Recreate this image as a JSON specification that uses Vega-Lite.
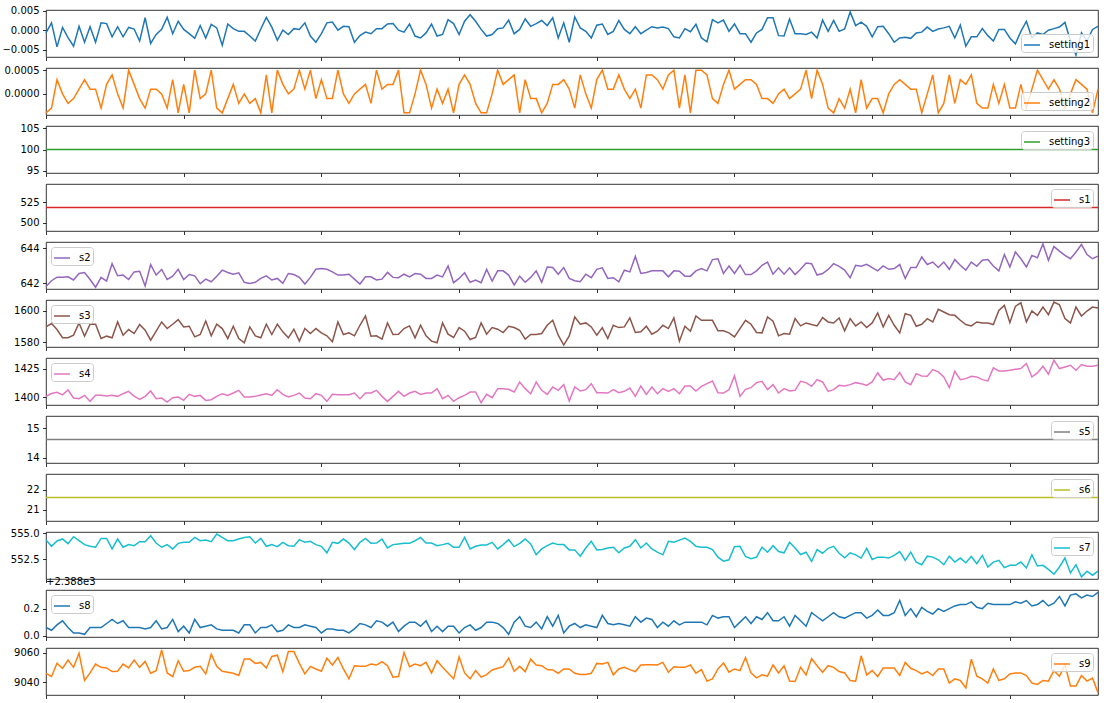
{
"$schema":"https://vega.github.io/schema/vega-lite/v6.json",
"background":"white",
"padding":{"left":1,"top":5,"right":5,"bottom":5},
"bounds":"flush",
"spacing":11,
"config":{
 "font":"DejaVu Sans",
 "view":{"stroke":"#000","strokeWidth":0.8},
 "axis":{"labelFont":"DejaVu Sans","labelFontSize":10,"labelColor":"#000","tickColor":"#000","tickWidth":0.8,"tickSize":3.5,"labelPadding":3.5,"domain":false,"grid":false},
 "legend":{"offset":5,"padding":2,"fillColor":"rgba(255,255,255,0.8)","strokeColor":"#cccccc","cornerRadius":3,"symbolType":"stroke","symbolSize":256,"symbolStrokeWidth":1.5,"labelFontSize":10,"labelFont":"DejaVu Sans","labelColor":"#000","labelOffset":8}
},
"resolve":{"scale":{"y":"independent","color":"independent"},"legend":{"color":"independent"}},
"data":{"values":[
{"t":0,"setting1":-0.0007,"setting2":-0.0004,"setting3":100,"s1":518.67,"s2":641.82,"s3":1589.70,"s4":1400.60,"s5":14.62,"s6":21.61,"s7":554.36,"s8":2388.06,"s9":9046.19},
{"t":1,"setting1":0.0019,"setting2":-0.0003,"setting3":100,"s1":518.67,"s2":642.15,"s3":1591.82,"s4":1403.14,"s5":14.62,"s6":21.61,"s7":553.75,"s8":2388.04,"s9":9044.07},
{"t":2,"setting1":-0.0043,"setting2":0.0003,"setting3":100,"s1":518.67,"s2":642.35,"s3":1587.99,"s4":1404.20,"s5":14.62,"s6":21.61,"s7":554.26,"s8":2388.08,"s9":9052.94},
{"t":3,"setting1":0.0007,"setting2":0,"setting3":100,"s1":518.67,"s2":642.35,"s3":1582.79,"s4":1401.87,"s5":14.62,"s6":21.61,"s7":554.45,"s8":2388.11,"s9":9049.48},
{"t":4,"setting1":-0.0019,"setting2":-0.0002,"setting3":100,"s1":518.67,"s2":642.37,"s3":1582.85,"s4":1406.22,"s5":14.62,"s6":21.61,"s7":554.00,"s8":2388.06,"s9":9055.15},
{"t":5,"setting1":-0.0041,"setting2":-0.0001,"setting3":100,"s1":518.67,"s2":642.19,"s3":1584.42,"s4":1399.12,"s5":14.62,"s6":21.61,"s7":554.66,"s8":2388.02,"s9":9050.22},
{"t":6,"setting1":0.0010,"setting2":0.0001,"setting3":100,"s1":518.67,"s2":642.56,"s3":1592.21,"s4":1398.53,"s5":14.62,"s6":21.61,"s7":554.28,"s8":2388.02,"s9":9059.78},
{"t":7,"setting1":-0.0031,"setting2":0.0003,"setting3":100,"s1":518.67,"s2":642.62,"s3":1583.79,"s4":1401.47,"s5":14.62,"s6":21.61,"s7":553.91,"s8":2388.01,"s9":9041.33},
{"t":8,"setting1":0.0009,"setting2":0.0001,"setting3":100,"s1":518.67,"s2":642.22,"s3":1591.37,"s4":1396.18,"s5":14.62,"s6":21.61,"s7":553.75,"s8":2388.06,"s9":9046.44},
{"t":9,"setting1":-0.0031,"setting2":0.0001,"setting3":100,"s1":518.67,"s2":641.78,"s3":1591.37,"s4":1401.47,"s5":14.62,"s6":21.61,"s7":553.66,"s8":2388.06,"s9":9052.44},
{"t":10,"setting1":0.0019,"setting2":-0.0003,"setting3":100,"s1":518.67,"s2":642.34,"s3":1582.32,"s4":1401.47,"s5":14.62,"s6":21.61,"s7":554.50,"s8":2388.06,"s9":9050.22},
{"t":11,"setting1":0.0017,"setting2":0.0002,"setting3":100,"s1":518.67,"s2":642.13,"s3":1583.79,"s4":1400.88,"s5":14.62,"s6":21.61,"s7":554.50,"s8":2388.09,"s9":9049.78},
{"t":12,"setting1":-0.0017,"setting2":0.0004,"setting3":100,"s1":518.67,"s2":643.12,"s3":1582.74,"s4":1401.47,"s5":14.62,"s6":21.61,"s7":553.50,"s8":2388.12,"s9":9047.33},
{"t":13,"setting1":0.0009,"setting2":0,"setting3":100,"s1":518.67,"s2":642.43,"s3":1592.84,"s4":1400.59,"s5":14.62,"s6":21.61,"s7":554.44,"s8":2388.09,"s9":9047.56},
{"t":14,"setting1":-0.0017,"setting2":-0.0003,"setting3":100,"s1":518.67,"s2":642.47,"s3":1584.42,"s4":1402.94,"s5":14.62,"s6":21.61,"s7":553.66,"s8":2388.11,"s9":9052.44},
{"t":15,"setting1":0.0007,"setting2":0.0005,"setting3":100,"s1":518.67,"s2":642.22,"s3":1588.00,"s4":1405.00,"s5":14.62,"s6":21.61,"s7":553.91,"s8":2388.06,"s9":9049.78},
{"t":16,"setting1":0.0003,"setting2":0.0002,"setting3":100,"s1":518.67,"s2":642.65,"s3":1585.47,"s4":1400.88,"s5":14.62,"s6":21.61,"s7":553.81,"s8":2388.06,"s9":9055.11},
{"t":17,"setting1":-0.0028,"setting2":-0.0001,"setting3":100,"s1":518.67,"s2":642.69,"s3":1591.16,"s4":1397.94,"s5":14.62,"s6":21.61,"s7":554.19,"s8":2388.06,"s9":9050.22},
{"t":18,"setting1":0.0032,"setting2":-0.0003,"setting3":100,"s1":518.67,"s2":641.85,"s3":1587.58,"s4":1400.59,"s5":14.62,"s6":21.61,"s7":554.19,"s8":2388.05,"s9":9054.22},
{"t":19,"setting1":-0.0034,"setting2":0.0001,"setting3":100,"s1":518.67,"s2":643.07,"s3":1581.26,"s4":1405.29,"s5":14.62,"s6":21.61,"s7":554.75,"s8":2388.06,"s9":9046.22},
{"t":20,"setting1":-0.0011,"setting2":0.0001,"setting3":100,"s1":518.67,"s2":642.47,"s3":1586.95,"s4":1398.53,"s5":14.62,"s6":21.61,"s7":554.06,"s8":2388.11,"s9":9048.00},
{"t":21,"setting1":0.0002,"setting2":0,"setting3":100,"s1":518.67,"s2":642.79,"s3":1592.84,"s4":1399.12,"s5":14.62,"s6":21.61,"s7":553.66,"s8":2388.05,"s9":9062.00},
{"t":22,"setting1":0.0033,"setting2":-0.0003,"setting3":100,"s1":518.67,"s2":642.22,"s3":1588.63,"s4":1395.59,"s5":14.62,"s6":21.61,"s7":553.91,"s8":2388.06,"s9":9046.44},
{"t":23,"setting1":-0.0009,"setting2":0.0003,"setting3":100,"s1":518.67,"s2":642.41,"s3":1591.37,"s4":1399.41,"s5":14.62,"s6":21.61,"s7":553.50,"s8":2388.12,"s9":9044.00},
{"t":24,"setting1":0.0023,"setting2":-0.0004,"setting3":100,"s1":518.67,"s2":642.80,"s3":1594.32,"s4":1400.00,"s5":14.62,"s6":21.61,"s7":554.03,"s8":2388.03,"s9":9054.67},
{"t":25,"setting1":0.0002,"setting2":0.0002,"setting3":100,"s1":518.67,"s2":642.22,"s3":1589.68,"s4":1397.06,"s5":14.62,"s6":21.61,"s7":554.13,"s8":2388.07,"s9":9047.56},
{"t":26,"setting1":-0.0009,"setting2":-0.0004,"setting3":100,"s1":518.67,"s2":642.50,"s3":1590.11,"s4":1402.35,"s5":14.62,"s6":21.61,"s7":554.13,"s8":2388.02,"s9":9048.00},
{"t":27,"setting1":-0.0021,"setting2":0.0005,"setting3":100,"s1":518.67,"s2":642.43,"s3":1583.37,"s4":1400.59,"s5":14.62,"s6":21.61,"s7":554.59,"s8":2388.12,"s9":9050.22},
{"t":28,"setting1":0.0012,"setting2":-0.0001,"setting3":100,"s1":518.67,"s2":641.98,"s3":1584.84,"s4":1401.47,"s5":14.62,"s6":21.61,"s7":554.28,"s8":2388.06,"s9":9050.89},
{"t":29,"setting1":-0.0020,"setting2":0,"setting3":100,"s1":518.67,"s2":642.24,"s3":1593.47,"s4":1397.06,"s5":14.62,"s6":21.61,"s7":554.34,"s8":2388.07,"s9":9045.78},
{"t":30,"setting1":0.0015,"setting2":0.0005,"setting3":100,"s1":518.67,"s2":642.09,"s3":1584.00,"s4":1397.65,"s5":14.62,"s6":21.61,"s7":554.19,"s8":2388.08,"s9":9059.11},
{"t":31,"setting1":0.0006,"setting2":-0.0003,"setting3":100,"s1":518.67,"s2":642.41,"s3":1591.37,"s4":1400.59,"s5":14.62,"s6":21.61,"s7":554.91,"s8":2388.05,"s9":9050.89},
{"t":32,"setting1":-0.0039,"setting2":-0.0004,"setting3":100,"s1":518.67,"s2":642.75,"s3":1588.63,"s4":1402.94,"s5":14.62,"s6":21.61,"s7":554.59,"s8":2388.04,"s9":9047.56},
{"t":33,"setting1":0.0016,"setting2":-0.0001,"setting3":100,"s1":518.67,"s2":642.62,"s3":1582.32,"s4":1401.47,"s5":14.62,"s6":21.61,"s7":554.28,"s8":2388.04,"s9":9046.89},
{"t":34,"setting1":0.0004,"setting2":0.0002,"setting3":100,"s1":518.67,"s2":642.52,"s3":1590.11,"s4":1403.53,"s5":14.62,"s6":21.61,"s7":554.28,"s8":2388.04,"s9":9046.22},
{"t":35,"setting1":-0.0003,"setting2":-0.0002,"setting3":100,"s1":518.67,"s2":642.60,"s3":1582.32,"s4":1405.88,"s5":14.62,"s6":21.61,"s7":554.44,"s8":2388.02,"s9":9044.67},
{"t":36,"setting1":-0.0003,"setting2":0,"setting3":100,"s1":518.67,"s2":642.06,"s3":1579.58,"s4":1400.00,"s5":14.62,"s6":21.61,"s7":554.59,"s8":2388.08,"s9":9055.78},
{"t":37,"setting1":-0.0015,"setting2":-0.0002,"setting3":100,"s1":518.67,"s2":642.00,"s3":1589.68,"s4":1400.00,"s5":14.62,"s6":21.61,"s7":554.66,"s8":2388.08,"s9":9055.78},
{"t":38,"setting1":-0.0028,"setting2":-0.0001,"setting3":100,"s1":518.67,"s2":642.06,"s3":1584.00,"s4":1400.59,"s5":14.62,"s6":21.61,"s7":554.06,"s8":2388.02,"s9":9052.89},
{"t":39,"setting1":0.0003,"setting2":-0.0004,"setting3":100,"s1":518.67,"s2":642.28,"s3":1582.74,"s4":1401.76,"s5":14.62,"s6":21.61,"s7":554.50,"s8":2388.06,"s9":9053.56},
{"t":40,"setting1":0.0033,"setting2":0.0004,"setting3":100,"s1":518.67,"s2":642.43,"s3":1591.37,"s4":1402.94,"s5":14.62,"s6":21.61,"s7":553.75,"s8":2388.06,"s9":9049.78},
{"t":41,"setting1":0.0008,"setting2":-0.0004,"setting3":100,"s1":518.67,"s2":642.19,"s3":1584.84,"s4":1401.47,"s5":14.62,"s6":21.61,"s7":553.91,"s8":2388.08,"s9":9057.56},
{"t":42,"setting1":-0.0026,"setting2":0.0005,"setting3":100,"s1":518.67,"s2":642.28,"s3":1591.37,"s4":1406.47,"s5":14.62,"s6":21.61,"s7":553.72,"s8":2388.03,"s9":9058.44},
{"t":43,"setting1":0,"setting2":0.0002,"setting3":100,"s1":518.67,"s2":642.00,"s3":1586.53,"s4":1402.35,"s5":14.62,"s6":21.61,"s7":554.13,"s8":2388.04,"s9":9047.33},
{"t":44,"setting1":-0.0011,"setting2":0,"setting3":100,"s1":518.67,"s2":642.56,"s3":1582.74,"s4":1400.00,"s5":14.62,"s6":21.61,"s7":553.81,"s8":2388.08,"s9":9060.89},
{"t":45,"setting1":0.0004,"setting2":0.0001,"setting3":100,"s1":518.67,"s2":642.50,"s3":1588.21,"s4":1401.47,"s5":14.62,"s6":21.61,"s7":553.75,"s8":2388.06,"s9":9060.89},
{"t":46,"setting1":0.0002,"setting2":0.0005,"setting3":100,"s1":518.67,"s2":642.34,"s3":1580.63,"s4":1403.53,"s5":14.62,"s6":21.61,"s7":554.38,"s8":2388.06,"s9":9052.89},
{"t":47,"setting1":0.0019,"setting2":0.0001,"setting3":100,"s1":518.67,"s2":641.96,"s3":1588.63,"s4":1399.12,"s5":14.62,"s6":21.61,"s7":554.13,"s8":2388.08,"s9":9045.78},
{"t":48,"setting1":-0.0015,"setting2":0.0005,"setting3":100,"s1":518.67,"s2":642.34,"s3":1585.47,"s4":1398.53,"s5":14.62,"s6":21.61,"s7":554.22,"s8":2388.07,"s9":9050.89},
{"t":49,"setting1":-0.0031,"setting2":-0.0001,"setting3":100,"s1":518.67,"s2":642.80,"s3":1588.63,"s4":1402.94,"s5":14.62,"s6":21.61,"s7":553.91,"s8":2388.06,"s9":9049.11},
{"t":50,"setting1":-0.0009,"setting2":0.0003,"setting3":100,"s1":518.67,"s2":642.84,"s3":1585.89,"s4":1401.47,"s5":14.62,"s6":21.61,"s7":553.75,"s8":2388.02,"s9":9047.56},
{"t":51,"setting1":0.0019,"setting2":-0.0001,"setting3":100,"s1":518.67,"s2":642.80,"s3":1584.00,"s4":1396.18,"s5":14.62,"s6":21.61,"s7":553.13,"s8":2388.05,"s9":9056.44},
{"t":52,"setting1":0.0021,"setting2":-0.0001,"setting3":100,"s1":518.67,"s2":642.65,"s3":1580.21,"s4":1402.35,"s5":14.62,"s6":21.61,"s7":554.13,"s8":2388.05,"s9":9051.78},
{"t":53,"setting1":0,"setting2":0.0005,"setting3":100,"s1":518.67,"s2":642.47,"s3":1592.84,"s4":1402.06,"s5":14.62,"s6":21.61,"s7":554.03,"s8":2388.04,"s9":9056.89},
{"t":54,"setting1":0.0010,"setting2":0,"setting3":100,"s1":518.67,"s2":642.47,"s3":1584.84,"s4":1402.06,"s5":14.62,"s6":21.61,"s7":554.44,"s8":2388.04,"s9":9049.11},
{"t":55,"setting1":0.0009,"setting2":-0.0002,"setting3":100,"s1":518.67,"s2":642.52,"s3":1585.89,"s4":1402.06,"s5":14.62,"s6":21.61,"s7":554.06,"s8":2388.02,"s9":9042.44},
{"t":56,"setting1":-0.0031,"setting2":0,"setting3":100,"s1":518.67,"s2":642.24,"s3":1584.00,"s4":1403.53,"s5":14.62,"s6":21.61,"s7":553.44,"s8":2388.05,"s9":9051.33},
{"t":57,"setting1":-0.0014,"setting2":0.0001,"setting3":100,"s1":518.67,"s2":641.96,"s3":1590.74,"s4":1398.53,"s5":14.62,"s6":21.61,"s7":554.13,"s8":2388.09,"s9":9050.89},
{"t":58,"setting1":-0.0005,"setting2":0.0002,"setting3":100,"s1":518.67,"s2":642.37,"s3":1596.63,"s4":1403.53,"s5":14.62,"s6":21.61,"s7":554.50,"s8":2388.08,"s9":9050.89},
{"t":59,"setting1":-0.0009,"setting2":-0.0002,"setting3":100,"s1":518.67,"s2":642.37,"s3":1583.79,"s4":1403.53,"s5":14.62,"s6":21.61,"s7":554.03,"s8":2388.06,"s9":9052.44},
{"t":60,"setting1":0.0004,"setting2":0.0005,"setting3":100,"s1":518.67,"s2":642.19,"s3":1584.00,"s4":1405.88,"s5":14.62,"s6":21.61,"s7":554.06,"s8":2388.11,"s9":9051.78},
{"t":61,"setting1":0.0004,"setting2":0.0001,"setting3":100,"s1":518.67,"s2":642.24,"s3":1581.89,"s4":1400.59,"s5":14.62,"s6":21.61,"s7":554.44,"s8":2388.10,"s9":9054.00},
{"t":62,"setting1":0.0016,"setting2":0.0002,"setting3":100,"s1":518.67,"s2":642.62,"s3":1592.21,"s4":1396.18,"s5":14.62,"s6":21.61,"s7":553.59,"s8":2388.07,"s9":9051.33},
{"t":63,"setting1":0.0017,"setting2":0.0002,"setting3":100,"s1":518.67,"s2":642.34,"s3":1584.84,"s4":1400.59,"s5":14.62,"s6":21.61,"s7":553.91,"s8":2388.10,"s9":9043.56},
{"t":64,"setting1":0,"setting2":0.0005,"setting3":100,"s1":518.67,"s2":642.32,"s3":1585.05,"s4":1405.00,"s5":14.62,"s6":21.61,"s7":553.97,"s8":2388.03,"s9":9044.00},
{"t":65,"setting1":-0.0005,"setting2":-0.0004,"setting3":100,"s1":518.67,"s2":642.52,"s3":1588.63,"s4":1400.59,"s5":14.62,"s6":21.61,"s7":554.03,"s8":2388.07,"s9":9060.22},
{"t":66,"setting1":0.0016,"setting2":-0.0004,"setting3":100,"s1":518.67,"s2":642.37,"s3":1590.32,"s4":1403.53,"s5":14.62,"s6":21.61,"s7":554.03,"s8":2388.10,"s9":9050.67},
{"t":67,"setting1":-0.0015,"setting2":0,"setting3":100,"s1":518.67,"s2":642.56,"s3":1582.74,"s4":1405.00,"s5":14.62,"s6":21.61,"s7":554.28,"s8":2388.10,"s9":9052.44},
{"t":68,"setting1":-0.0020,"setting2":0.0005,"setting3":100,"s1":518.67,"s2":642.52,"s3":1590.74,"s4":1402.35,"s5":14.62,"s6":21.61,"s7":554.59,"s8":2388.07,"s9":9051.33},
{"t":69,"setting1":-0.0007,"setting2":0.0002,"setting3":100,"s1":518.67,"s2":642.28,"s3":1584.00,"s4":1403.53,"s5":14.62,"s6":21.61,"s7":554.06,"s8":2388.11,"s9":9053.56},
{"t":70,"setting1":0.0016,"setting2":-0.0003,"setting3":100,"s1":518.67,"s2":642.28,"s3":1580.63,"s4":1403.53,"s5":14.62,"s6":21.61,"s7":554.06,"s8":2388.03,"s9":9046.44},
{"t":71,"setting1":-0.0015,"setting2":0.0001,"setting3":100,"s1":518.67,"s2":642.47,"s3":1579.58,"s4":1407.35,"s5":14.62,"s6":21.61,"s7":553.81,"s8":2388.07,"s9":9054.67},
{"t":72,"setting1":-0.0011,"setting2":-0.0002,"setting3":100,"s1":518.67,"s2":642.37,"s3":1592.21,"s4":1398.53,"s5":14.62,"s6":21.61,"s7":553.91,"s8":2388.03,"s9":9050.22},
{"t":73,"setting1":0.0027,"setting2":0.0001,"setting3":100,"s1":518.67,"s2":642.99,"s3":1585.05,"s4":1401.47,"s5":14.62,"s6":21.61,"s7":554.03,"s8":2388.07,"s9":9046.44},
{"t":74,"setting1":0.0017,"setting2":-0.0004,"setting3":100,"s1":518.67,"s2":642.04,"s3":1582.95,"s4":1396.18,"s5":14.62,"s6":21.61,"s7":553.66,"s8":2388.07,"s9":9042.44},
{"t":75,"setting1":-0.0011,"setting2":0.0002,"setting3":100,"s1":518.67,"s2":642.28,"s3":1589.26,"s4":1399.41,"s5":14.62,"s6":21.61,"s7":553.66,"s8":2388.02,"s9":9057.33},
{"t":76,"setting1":0.0023,"setting2":0.0004,"setting3":100,"s1":518.67,"s2":642.60,"s3":1586.95,"s4":1401.47,"s5":14.62,"s6":21.61,"s7":554.59,"s8":2388.06,"s9":9046.44},
{"t":77,"setting1":0.0040,"setting2":0.0002,"setting3":100,"s1":518.67,"s2":642.06,"s3":1581.68,"s4":1404.41,"s5":14.62,"s6":21.61,"s7":553.50,"s8":2388.08,"s9":9042.44},
{"t":78,"setting1":0.0023,"setting2":-0.0002,"setting3":100,"s1":518.67,"s2":642.19,"s3":1582.95,"s4":1404.41,"s5":14.62,"s6":21.61,"s7":553.75,"s8":2388.04,"s9":9048.00},
{"t":79,"setting1":0.0002,"setting2":-0.0004,"setting3":100,"s1":518.67,"s2":642.04,"s3":1592.21,"s4":1395.00,"s5":14.62,"s6":21.61,"s7":553.88,"s8":2388.06,"s9":9043.56},
{"t":80,"setting1":-0.0015,"setting2":-0.0004,"setting3":100,"s1":518.67,"s2":642.79,"s3":1585.05,"s4":1402.35,"s5":14.62,"s6":21.61,"s7":553.88,"s8":2388.10,"s9":9045.33},
{"t":81,"setting1":-0.0011,"setting2":0,"setting3":100,"s1":518.67,"s2":642.13,"s3":1589.26,"s4":1399.41,"s5":14.62,"s6":21.61,"s7":554.13,"s8":2388.10,"s9":9048.44},
{"t":82,"setting1":0.0004,"setting2":0.0005,"setting3":100,"s1":518.67,"s2":642.71,"s3":1588.21,"s4":1407.35,"s5":14.62,"s6":21.61,"s7":553.50,"s8":2388.09,"s9":9049.56},
{"t":83,"setting1":0.0006,"setting2":0.0002,"setting3":100,"s1":518.67,"s2":642.71,"s3":1586.11,"s4":1407.35,"s5":14.62,"s6":21.61,"s7":553.91,"s8":2388.06,"s9":9050.67},
{"t":84,"setting1":0.0026,"setting2":0.0003,"setting3":100,"s1":518.67,"s2":642.47,"s3":1590.11,"s4":1406.76,"s5":14.62,"s6":21.61,"s7":554.38,"s8":2388.01,"s9":9056.44},
{"t":85,"setting1":-0.0009,"setting2":0.0004,"setting3":100,"s1":518.67,"s2":641.91,"s3":1589.26,"s4":1404.41,"s5":14.62,"s6":21.61,"s7":553.72,"s8":2388.10,"s9":9047.56},
{"t":86,"setting1":0.0002,"setting2":-0.0004,"setting3":100,"s1":518.67,"s2":642.41,"s3":1587.58,"s4":1413.24,"s5":14.62,"s6":21.61,"s7":554.03,"s8":2388.14,"s9":9050.89},
{"t":87,"setting1":0.0029,"setting2":0.0003,"setting3":100,"s1":518.67,"s2":642.06,"s3":1581.89,"s4":1407.35,"s5":14.62,"s6":21.61,"s7":554.44,"s8":2388.07,"s9":9047.33},
{"t":88,"setting1":0.0010,"setting2":-0.0001,"setting3":100,"s1":518.67,"s2":642.34,"s3":1584.84,"s4":1402.94,"s5":14.62,"s6":21.61,"s7":553.97,"s8":2388.06,"s9":9055.78},
{"t":89,"setting1":0.0017,"setting2":-0.0001,"setting3":100,"s1":518.67,"s2":642.71,"s3":1584.84,"s4":1413.24,"s5":14.62,"s6":21.61,"s7":552.94,"s8":2388.10,"s9":9051.78},
{"t":90,"setting1":0.0025,"setting2":-0.0004,"setting3":100,"s1":518.67,"s2":642.06,"s3":1585.47,"s4":1405.88,"s5":14.62,"s6":21.61,"s7":553.50,"s8":2388.05,"s9":9051.33},
{"t":91,"setting1":0.0012,"setting2":-0.0002,"setting3":100,"s1":518.67,"s2":642.93,"s3":1590.74,"s4":1402.35,"s5":14.62,"s6":21.61,"s7":553.81,"s8":2388.14,"s9":9048.67},
{"t":92,"setting1":0.0032,"setting2":0.0002,"setting3":100,"s1":518.67,"s2":642.90,"s3":1593.89,"s4":1408.82,"s5":14.62,"s6":21.61,"s7":554.06,"s8":2388.07,"s9":9048.44},
{"t":93,"setting1":-0.0020,"setting2":0.0002,"setting3":100,"s1":518.67,"s2":642.52,"s3":1584.42,"s4":1405.88,"s5":14.62,"s6":21.61,"s7":553.91,"s8":2388.15,"s9":9046.22},
{"t":94,"setting1":0.0019,"setting2":0.0003,"setting3":100,"s1":518.67,"s2":642.90,"s3":1578.11,"s4":1410.88,"s5":14.62,"s6":21.61,"s7":553.91,"s8":2388.02,"s9":9049.11},
{"t":95,"setting1":-0.0031,"setting2":0.0001,"setting3":100,"s1":518.67,"s2":642.28,"s3":1584.00,"s4":1396.47,"s5":14.62,"s6":21.61,"s7":553.41,"s8":2388.07,"s9":9049.11},
{"t":96,"setting1":0.0034,"setting2":-0.0003,"setting3":100,"s1":518.67,"s2":642.15,"s3":1596.00,"s4":1408.82,"s5":14.62,"s6":21.61,"s7":553.41,"s8":2388.09,"s9":9046.22},
{"t":97,"setting1":0.0006,"setting2":0.0004,"setting3":100,"s1":518.67,"s2":642.09,"s3":1591.37,"s4":1405.29,"s5":14.62,"s6":21.61,"s7":552.81,"s8":2388.06,"s9":9045.33},
{"t":98,"setting1":-0.0003,"setting2":0,"setting3":100,"s1":518.67,"s2":642.52,"s3":1592.21,"s4":1406.47,"s5":14.62,"s6":21.61,"s7":553.59,"s8":2388.08,"s9":9045.33},
{"t":99,"setting1":-0.0020,"setting2":-0.0003,"setting3":100,"s1":518.67,"s2":642.32,"s3":1589.68,"s4":1411.76,"s5":14.62,"s6":21.61,"s7":554.22,"s8":2388.07,"s9":9046.22},
{"t":100,"setting1":0.0013,"setting2":0.0003,"setting3":100,"s1":518.67,"s2":642.80,"s3":1584.42,"s4":1403.82,"s5":14.62,"s6":21.61,"s7":553.41,"s8":2388.06,"s9":9052.89},
{"t":101,"setting1":0.0016,"setting2":0.0005,"setting3":100,"s1":518.67,"s2":642.88,"s3":1589.26,"s4":1403.82,"s5":14.62,"s6":21.61,"s7":553.44,"s8":2388.15,"s9":9052.44},
{"t":102,"setting1":-0.0011,"setting2":0.0001,"setting3":100,"s1":518.67,"s2":642.28,"s3":1582.32,"s4":1403.53,"s5":14.62,"s6":21.61,"s7":553.59,"s8":2388.09,"s9":9053.56},
{"t":103,"setting1":-0.0003,"setting2":0.0001,"setting3":100,"s1":518.67,"s2":642.32,"s3":1590.74,"s4":1406.47,"s5":14.62,"s6":21.61,"s7":553.66,"s8":2388.08,"s9":9045.11},
{"t":104,"setting1":0.0025,"setting2":0.0004,"setting3":100,"s1":518.67,"s2":642.09,"s3":1589.26,"s4":1403.82,"s5":14.62,"s6":21.61,"s7":553.13,"s8":2388.09,"s9":9049.11},
{"t":105,"setting1":0.0002,"setting2":0.0001,"setting3":100,"s1":518.67,"s2":642.75,"s3":1589.68,"s4":1405.00,"s5":14.62,"s6":21.61,"s7":553.59,"s8":2388.08,"s9":9050.22},
{"t":106,"setting1":-0.0009,"setting2":-0.0001,"setting3":100,"s1":518.67,"s2":642.65,"s3":1595.37,"s4":1407.94,"s5":14.62,"s6":21.61,"s7":553.75,"s8":2388.07,"s9":9048.67},
{"t":107,"setting1":0.0009,"setting2":0.0001,"setting3":100,"s1":518.67,"s2":643.53,"s3":1586.11,"s4":1400.59,"s5":14.62,"s6":21.61,"s7":554.38,"s8":2388.14,"s9":9047.33},
{"t":108,"setting1":-0.0009,"setting2":-0.0003,"setting3":100,"s1":518.67,"s2":642.56,"s3":1586.53,"s4":1409.71,"s5":14.62,"s6":21.61,"s7":553.59,"s8":2388.10,"s9":9051.78},
{"t":109,"setting1":0,"setting2":0.0004,"setting3":100,"s1":518.67,"s2":642.62,"s3":1590.11,"s4":1402.35,"s5":14.62,"s6":21.61,"s7":554.06,"s8":2388.13,"s9":9052.00},
{"t":110,"setting1":0.0009,"setting2":0.0004,"setting3":100,"s1":518.67,"s2":642.71,"s3":1585.05,"s4":1408.82,"s5":14.62,"s6":21.61,"s7":553.50,"s8":2388.12,"s9":9052.00},
{"t":111,"setting1":0.0006,"setting2":0.0003,"setting3":100,"s1":518.67,"s2":642.71,"s3":1586.95,"s4":1402.94,"s5":14.62,"s6":21.61,"s7":553.19,"s8":2388.06,"s9":9051.78},
{"t":112,"setting1":0.0008,"setting2":0.0001,"setting3":100,"s1":518.67,"s2":642.71,"s3":1590.74,"s4":1407.35,"s5":14.62,"s6":21.61,"s7":552.94,"s8":2388.10,"s9":9053.56},
{"t":113,"setting1":0.0004,"setting2":0.0004,"setting3":100,"s1":518.67,"s2":642.37,"s3":1588.63,"s4":1405.00,"s5":14.62,"s6":21.61,"s7":554.22,"s8":2388.07,"s9":9046.89},
{"t":114,"setting1":-0.0017,"setting2":0.0005,"setting3":100,"s1":518.67,"s2":642.71,"s3":1595.37,"s4":1407.35,"s5":14.62,"s6":21.61,"s7":554.13,"s8":2388.11,"s9":9050.67},
{"t":115,"setting1":-0.0020,"setting2":-0.0003,"setting3":100,"s1":518.67,"s2":642.69,"s3":1580.63,"s4":1402.94,"s5":14.62,"s6":21.61,"s7":554.34,"s8":2388.08,"s9":9050.22},
{"t":116,"setting1":0.0004,"setting2":0.0004,"setting3":100,"s1":518.67,"s2":642.41,"s3":1590.11,"s4":1409.71,"s5":14.62,"s6":21.61,"s7":554.53,"s8":2388.10,"s9":9050.22},
{"t":117,"setting1":-0.0004,"setting2":-0.0004,"setting3":100,"s1":518.67,"s2":642.41,"s3":1586.95,"s4":1409.71,"s5":14.62,"s6":21.61,"s7":554.22,"s8":2388.10,"s9":9051.78},
{"t":118,"setting1":0.0015,"setting2":0.0005,"setting3":100,"s1":518.67,"s2":642.71,"s3":1596.63,"s4":1405.29,"s5":14.62,"s6":21.61,"s7":553.75,"s8":2388.10,"s9":9046.22},
{"t":119,"setting1":-0.0020,"setting2":0.0005,"setting3":100,"s1":518.67,"s2":642.84,"s3":1593.89,"s4":1409.41,"s5":14.62,"s6":21.61,"s7":553.66,"s8":2388.10,"s9":9048.67},
{"t":120,"setting1":-0.0030,"setting2":0.0004,"setting3":100,"s1":518.67,"s2":642.71,"s3":1593.89,"s4":1411.76,"s5":14.62,"s6":21.61,"s7":553.66,"s8":2388.08,"s9":9040.89},
{"t":121,"setting1":0.0027,"setting2":-0.0001,"setting3":100,"s1":518.67,"s2":643.35,"s3":1593.89,"s4":1414.12,"s5":14.62,"s6":21.61,"s7":553.44,"s8":2388.15,"s9":9042.44},
{"t":122,"setting1":0.0019,"setting2":-0.0002,"setting3":100,"s1":518.67,"s2":643.40,"s3":1587.16,"s4":1403.82,"s5":14.62,"s6":21.61,"s7":552.72,"s8":2388.13,"s9":9049.11},
{"t":123,"setting1":0.0026,"setting2":0.0002,"setting3":100,"s1":518.67,"s2":642.56,"s3":1587.16,"s4":1403.53,"s5":14.62,"s6":21.61,"s7":552.34,"s8":2388.14,"s9":9053.11},
{"t":124,"setting1":-0.0003,"setting2":0.0005,"setting3":100,"s1":518.67,"s2":642.99,"s3":1585.89,"s4":1406.47,"s5":14.62,"s6":21.61,"s7":552.47,"s8":2388.14,"s9":9046.89},
{"t":125,"setting1":0.0016,"setting2":0.0001,"setting3":100,"s1":518.67,"s2":642.56,"s3":1583.37,"s4":1418.53,"s5":14.62,"s6":21.61,"s7":553.72,"s8":2388.06,"s9":9049.11},
{"t":126,"setting1":-0.0009,"setting2":0.0002,"setting3":100,"s1":518.67,"s2":643.03,"s3":1588.63,"s4":1400.59,"s5":14.62,"s6":21.61,"s7":553.75,"s8":2388.10,"s9":9048.00},
{"t":127,"setting1":-0.0009,"setting2":0.0003,"setting3":100,"s1":518.67,"s2":642.50,"s3":1593.89,"s4":1406.80,"s5":14.62,"s6":21.61,"s7":552.78,"s8":2388.14,"s9":9056.89},
{"t":128,"setting1":-0.0031,"setting2":0.0003,"setting3":100,"s1":518.67,"s2":642.50,"s3":1591.37,"s4":1408.20,"s5":14.62,"s6":21.61,"s7":552.56,"s8":2388.09,"s9":9046.44},
{"t":129,"setting1":-0.0007,"setting2":0.0002,"setting3":100,"s1":518.67,"s2":642.71,"s3":1586.11,"s4":1412.65,"s5":14.62,"s6":21.61,"s7":552.72,"s8":2388.14,"s9":9043.11},
{"t":130,"setting1":0.0002,"setting2":-0.0001,"setting3":100,"s1":518.67,"s2":643.03,"s3":1585.89,"s4":1413.82,"s5":14.62,"s6":21.61,"s7":553.66,"s8":2388.12,"s9":9045.11},
{"t":131,"setting1":0.0032,"setting2":-0.0001,"setting3":100,"s1":518.67,"s2":643.21,"s3":1596.00,"s4":1406.47,"s5":14.62,"s6":21.61,"s7":553.19,"s8":2388.17,"s9":9044.22},
{"t":132,"setting1":0.0032,"setting2":-0.0002,"setting3":100,"s1":518.67,"s2":642.52,"s3":1593.26,"s4":1410.88,"s5":14.62,"s6":21.61,"s7":553.81,"s8":2388.11,"s9":9051.78},
{"t":133,"setting1":-0.0014,"setting2":0,"setting3":100,"s1":518.67,"s2":642.88,"s3":1584.00,"s4":1403.53,"s5":14.62,"s6":21.61,"s7":553.25,"s8":2388.11,"s9":9046.44},
{"t":134,"setting1":-0.0015,"setting2":0.0001,"setting3":100,"s1":518.67,"s2":642.52,"s3":1585.47,"s4":1407.35,"s5":14.62,"s6":21.61,"s7":553.13,"s8":2388.14,"s9":9051.33},
{"t":135,"setting1":0.0029,"setting2":-0.0001,"setting3":100,"s1":518.67,"s2":642.88,"s3":1585.05,"s4":1405.29,"s5":14.62,"s6":21.61,"s7":554.13,"s8":2388.07,"s9":9040.89},
{"t":136,"setting1":-0.0009,"setting2":0,"setting3":100,"s1":518.67,"s2":642.50,"s3":1594.95,"s4":1405.88,"s5":14.62,"s6":21.61,"s7":553.59,"s8":2388.15,"s9":9040.67},
{"t":137,"setting1":-0.0009,"setting2":0.0001,"setting3":100,"s1":518.67,"s2":642.80,"s3":1590.32,"s4":1413.82,"s5":14.62,"s6":21.61,"s7":552.97,"s8":2388.11,"s9":9050.22},
{"t":138,"setting1":-0.0011,"setting2":0.0005,"setting3":100,"s1":518.67,"s2":643.16,"s3":1592.21,"s4":1412.65,"s5":14.62,"s6":21.61,"s7":553.19,"s8":2388.07,"s9":9045.11},
{"t":139,"setting1":-0.0005,"setting2":-0.0001,"setting3":100,"s1":518.67,"s2":643.12,"s3":1591.16,"s4":1409.41,"s5":14.62,"s6":21.61,"s7":552.31,"s8":2388.17,"s9":9056.22},
{"t":140,"setting1":-0.0020,"setting2":0.0005,"setting3":100,"s1":518.67,"s2":642.47,"s3":1590.32,"s4":1415.29,"s5":14.62,"s6":21.61,"s7":553.44,"s8":2388.14,"s9":9051.33},
{"t":141,"setting1":0.0026,"setting2":0.0002,"setting3":100,"s1":518.67,"s2":642.56,"s3":1595.58,"s4":1413.24,"s5":14.62,"s6":21.61,"s7":553.09,"s8":2388.11,"s9":9046.89},
{"t":142,"setting1":-0.0003,"setting2":-0.0003,"setting3":100,"s1":518.67,"s2":642.79,"s3":1592.84,"s4":1405.00,"s5":14.62,"s6":21.61,"s7":553.56,"s8":2388.14,"s9":9051.33},
{"t":143,"setting1":0.0025,"setting2":-0.0004,"setting3":100,"s1":518.67,"s2":643.12,"s3":1592.21,"s4":1406.47,"s5":14.62,"s6":21.61,"s7":553.75,"s8":2388.17,"s9":9050.22},
{"t":144,"setting1":-0.0003,"setting2":-0.0001,"setting3":100,"s1":518.67,"s2":642.97,"s3":1595.37,"s4":1410.29,"s5":14.62,"s6":21.61,"s7":553.09,"s8":2388.14,"s9":9047.33},
{"t":145,"setting1":0.0003,"setting2":-0.0003,"setting3":100,"s1":518.67,"s2":642.75,"s3":1587.16,"s4":1409.71,"s5":14.62,"s6":21.61,"s7":552.66,"s8":2388.13,"s9":9046.44},
{"t":146,"setting1":0.0047,"setting2":0.0001,"setting3":100,"s1":518.67,"s2":642.32,"s3":1594.95,"s4":1410.88,"s5":14.62,"s6":21.61,"s7":553.13,"s8":2388.15,"s9":9041.33},
{"t":147,"setting1":0.0012,"setting2":-0.0004,"setting3":100,"s1":518.67,"s2":643.03,"s3":1590.32,"s4":1412.65,"s5":14.62,"s6":21.61,"s7":552.94,"s8":2388.17,"s9":9040.89},
{"t":148,"setting1":0.0021,"setting2":0.0003,"setting3":100,"s1":518.67,"s2":642.97,"s3":1592.84,"s4":1411.76,"s5":14.62,"s6":21.61,"s7":552.63,"s8":2388.17,"s9":9058.00},
{"t":149,"setting1":0.0010,"setting2":-0.0003,"setting3":100,"s1":518.67,"s2":643.08,"s3":1589.26,"s4":1410.29,"s5":14.62,"s6":21.61,"s7":553.56,"s8":2388.13,"s9":9045.11},
{"t":150,"setting1":-0.0017,"setting2":-0.0001,"setting3":100,"s1":518.67,"s2":642.90,"s3":1592.21,"s4":1413.24,"s5":14.62,"s6":21.61,"s7":552.50,"s8":2388.15,"s9":9048.00},
{"t":151,"setting1":0.0009,"setting2":-0.0001,"setting3":100,"s1":518.67,"s2":642.71,"s3":1598.53,"s4":1421.18,"s5":14.62,"s6":21.61,"s7":552.72,"s8":2388.19,"s9":9044.00},
{"t":152,"setting1":0.0010,"setting2":-0.0004,"setting3":100,"s1":518.67,"s2":642.99,"s3":1589.68,"s4":1414.71,"s5":14.62,"s6":21.61,"s7":552.72,"s8":2388.15,"s9":9049.78},
{"t":153,"setting1":-0.0009,"setting2":0,"setting3":100,"s1":518.67,"s2":642.80,"s3":1597.05,"s4":1416.18,"s5":14.62,"s6":21.61,"s7":552.63,"s8":2388.15,"s9":9049.78},
{"t":154,"setting1":-0.0031,"setting2":0.0002,"setting3":100,"s1":518.67,"s2":642.84,"s3":1590.74,"s4":1415.29,"s5":14.62,"s6":21.61,"s7":552.88,"s8":2388.17,"s9":9049.78},
{"t":155,"setting1":-0.0020,"setting2":0.0003,"setting3":100,"s1":518.67,"s2":643.07,"s3":1585.89,"s4":1421.47,"s5":14.62,"s6":21.61,"s7":553.25,"s8":2388.26,"s9":9044.67},
{"t":156,"setting1":-0.0018,"setting2":0.0002,"setting3":100,"s1":518.67,"s2":642.28,"s3":1598.11,"s4":1413.24,"s5":14.62,"s6":21.61,"s7":552.41,"s8":2388.15,"s9":9053.56},
{"t":157,"setting1":-0.0021,"setting2":0.0001,"setting3":100,"s1":518.67,"s2":642.90,"s3":1597.05,"s4":1410.88,"s5":14.62,"s6":21.61,"s7":553.19,"s8":2388.20,"s9":9049.56},
{"t":158,"setting1":-0.0007,"setting2":0.0001,"setting3":100,"s1":518.67,"s2":642.90,"s3":1590.11,"s4":1420.59,"s5":14.62,"s6":21.61,"s7":552.25,"s8":2388.14,"s9":9048.00},
{"t":159,"setting1":-0.0005,"setting2":-0.0004,"setting3":100,"s1":518.67,"s2":643.50,"s3":1591.37,"s4":1418.53,"s5":14.62,"s6":21.61,"s7":552.00,"s8":2388.21,"s9":9045.78},
{"t":160,"setting1":0.0008,"setting2":0,"setting3":100,"s1":518.67,"s2":643.07,"s3":1594.95,"s4":1418.24,"s5":14.62,"s6":21.61,"s7":552.81,"s8":2388.18,"s9":9047.33},
{"t":161,"setting1":-0.0003,"setting2":0.0004,"setting3":100,"s1":518.67,"s2":643.21,"s3":1592.84,"s4":1424.12,"s5":14.62,"s6":21.61,"s7":552.72,"s8":2388.16,"s9":9044.67},
{"t":162,"setting1":0.0003,"setting2":-0.0004,"setting3":100,"s1":518.67,"s2":642.90,"s3":1600.84,"s4":1422.06,"s5":14.62,"s6":21.61,"s7":552.47,"s8":2388.20,"s9":9049.11},
{"t":163,"setting1":0.0006,"setting2":-0.0002,"setting3":100,"s1":518.67,"s2":643.21,"s3":1599.16,"s4":1417.65,"s5":14.62,"s6":21.61,"s7":552.00,"s8":2388.18,"s9":9049.11},
{"t":164,"setting1":0.0010,"setting2":0.0004,"setting3":100,"s1":518.67,"s2":642.80,"s3":1597.47,"s4":1408.24,"s5":14.62,"s6":21.61,"s7":552.81,"s8":2388.20,"s9":9039.56},
{"t":165,"setting1":-0.0020,"setting2":-0.0002,"setting3":100,"s1":518.67,"s2":643.35,"s3":1597.05,"s4":1422.65,"s5":14.62,"s6":21.61,"s7":552.25,"s8":2388.22,"s9":9042.44},
{"t":166,"setting1":0.0013,"setting2":0.0003,"setting3":100,"s1":518.67,"s2":643.03,"s3":1593.89,"s4":1415.29,"s5":14.62,"s6":21.61,"s7":552.63,"s8":2388.23,"s9":9041.33},
{"t":167,"setting1":-0.0041,"setting2":0.0002,"setting3":100,"s1":518.67,"s2":642.75,"s3":1591.16,"s4":1416.18,"s5":14.62,"s6":21.61,"s7":552.19,"s8":2388.23,"s9":9036.22},
{"t":168,"setting1":-0.0017,"setting2":0.0004,"setting3":100,"s1":518.67,"s2":643.21,"s3":1590.32,"s4":1418.24,"s5":14.62,"s6":21.61,"s7":552.78,"s8":2388.25,"s9":9055.78},
{"t":169,"setting1":-0.0017,"setting2":-0.0002,"setting3":100,"s1":518.67,"s2":642.97,"s3":1592.84,"s4":1417.65,"s5":14.62,"s6":21.61,"s7":552.09,"s8":2388.21,"s9":9044.22},
{"t":170,"setting1":0.0004,"setting2":-0.0003,"setting3":100,"s1":518.67,"s2":643.31,"s3":1592.21,"s4":1415.29,"s5":14.62,"s6":21.61,"s7":552.88,"s8":2388.20,"s9":9042.44},
{"t":171,"setting1":-0.0014,"setting2":-0.0003,"setting3":100,"s1":518.67,"s2":643.35,"s3":1592.21,"s4":1414.12,"s5":14.62,"s6":21.61,"s7":551.78,"s8":2388.24,"s9":9039.56},
{"t":172,"setting1":-0.0028,"setting2":0.0002,"setting3":100,"s1":518.67,"s2":642.99,"s3":1591.16,"s4":1425.59,"s5":14.62,"s6":21.61,"s7":552.25,"s8":2388.23,"s9":9049.11},
{"t":173,"setting1":0.0002,"setting2":-0.0002,"setting3":100,"s1":518.67,"s2":642.71,"s3":1600.21,"s4":1422.94,"s5":14.62,"s6":21.61,"s7":552.41,"s8":2388.23,"s9":9041.33},
{"t":174,"setting1":0.0002,"setting2":0.0002,"setting3":100,"s1":518.67,"s2":643.64,"s3":1603.37,"s4":1422.94,"s5":14.62,"s6":21.61,"s7":551.72,"s8":2388.23,"s9":9042.44},
{"t":175,"setting1":-0.0020,"setting2":-0.0003,"setting3":100,"s1":518.67,"s2":642.93,"s3":1592.42,"s4":1423.53,"s5":14.62,"s6":21.61,"s7":551.94,"s8":2388.23,"s9":9045.78},
{"t":176,"setting1":-0.0035,"setting2":-0.0003,"setting3":100,"s1":518.67,"s2":643.78,"s3":1602.74,"s4":1424.41,"s5":14.62,"s6":21.61,"s7":551.94,"s8":2388.25,"s9":9046.44},
{"t":177,"setting1":-0.0003,"setting2":0.0002,"setting3":100,"s1":518.67,"s2":643.40,"s3":1605.05,"s4":1425.00,"s5":14.62,"s6":21.61,"s7":552.25,"s8":2388.24,"s9":9046.44},
{"t":178,"setting1":0.0023,"setting2":-0.0003,"setting3":100,"s1":518.67,"s2":642.93,"s3":1592.84,"s4":1429.41,"s5":14.62,"s6":21.61,"s7":551.69,"s8":2388.26,"s9":9044.67},
{"t":179,"setting1":-0.0020,"setting2":0.0001,"setting3":100,"s1":518.67,"s2":643.59,"s3":1599.79,"s4":1417.65,"s5":14.62,"s6":21.61,"s7":552.94,"s8":2388.22,"s9":9039.56},
{"t":180,"setting1":-0.0007,"setting2":0.0005,"setting3":100,"s1":518.67,"s2":643.46,"s3":1597.05,"s4":1421.18,"s5":14.62,"s6":21.61,"s7":551.88,"s8":2388.23,"s9":9038.67},
{"t":181,"setting1":-0.0011,"setting2":0.0003,"setting3":100,"s1":518.67,"s2":644.24,"s3":1602.32,"s4":1427.06,"s5":14.62,"s6":21.61,"s7":551.94,"s8":2388.26,"s9":9041.33},
{"t":182,"setting1":0,"setting2":0.0001,"setting3":100,"s1":518.67,"s2":643.31,"s3":1597.47,"s4":1420.00,"s5":14.62,"s6":21.61,"s7":551.56,"s8":2388.22,"s9":9040.89},
{"t":183,"setting1":0.0004,"setting2":0.0003,"setting3":100,"s1":518.67,"s2":644.09,"s3":1605.47,"s4":1432.35,"s5":14.62,"s6":21.61,"s7":551.09,"s8":2388.24,"s9":9048.00},
{"t":184,"setting1":0.0008,"setting2":0.0001,"setting3":100,"s1":518.67,"s2":643.83,"s3":1603.79,"s4":1425.00,"s5":14.62,"s6":21.61,"s7":551.78,"s8":2388.29,"s9":9044.22},
{"t":185,"setting1":0.0020,"setting2":-0.0003,"setting3":100,"s1":518.67,"s2":643.59,"s3":1594.95,"s4":1426.47,"s5":14.62,"s6":21.61,"s7":552.63,"s8":2388.22,"s9":9052.00},
{"t":186,"setting1":-0.0028,"setting2":0,"setting3":100,"s1":518.67,"s2":643.40,"s3":1592.21,"s4":1427.94,"s5":14.62,"s6":21.61,"s7":551.22,"s8":2388.30,"s9":9037.56},
{"t":187,"setting1":-0.0064,"setting2":0.0003,"setting3":100,"s1":518.67,"s2":643.78,"s3":1602.32,"s4":1423.53,"s5":14.62,"s6":21.61,"s7":552.00,"s8":2388.31,"s9":9037.56},
{"t":188,"setting1":-0.0007,"setting2":0.0002,"setting3":100,"s1":518.67,"s2":644.21,"s3":1596.63,"s4":1428.53,"s5":14.62,"s6":21.61,"s7":550.84,"s8":2388.28,"s9":9044.67},
{"t":189,"setting1":-0.0028,"setting2":0.0001,"setting3":100,"s1":518.67,"s2":643.64,"s3":1599.79,"s4":1427.06,"s5":14.62,"s6":21.61,"s7":551.38,"s8":2388.30,"s9":9040.89},
{"t":190,"setting1":0.0002,"setting2":-0.0004,"setting3":100,"s1":518.67,"s2":643.40,"s3":1602.32,"s4":1427.06,"s5":14.62,"s6":21.61,"s7":551.00,"s8":2388.29,"s9":9042.89},
{"t":191,"setting1":0.0010,"setting2":0.0001,"setting3":100,"s1":518.67,"s2":643.55,"s3":1601.68,"s4":1427.94,"s5":14.62,"s6":21.61,"s7":551.38,"s8":2388.32,"s9":9033.11}
]},
"vconcat":[
{"width":1052,"height":47,"mark":{"type":"line","strokeWidth":1.5},"encoding":{
 "x":{"field":"t","type":"quantitative","scale":{"domain":[0,191],"nice":false,"zero":false},"axis":{"values":[0,25,50,75,100,125,150,175],"labels":false,"title":null}},
 "y":{"field":"setting1","type":"quantitative","scale":{"domain":[-0.0069,0.0052],"nice":false,"zero":false},"axis":{"values":[-0.005,0,0.005],"format":".3f","title":null}},
 "color":{"datum":"setting1","type":"nominal","scale":{"range":["#1f77b4"]},"legend":{"orient":"bottom-right","title":null}}}},
{"width":1052,"height":47,"mark":{"type":"line","strokeWidth":1.5},"encoding":{
 "x":{"field":"t","type":"quantitative","scale":{"domain":[0,191],"nice":false,"zero":false},"axis":{"values":[0,25,50,75,100,125,150,175],"labels":false,"title":null}},
 "y":{"field":"setting2","type":"quantitative","scale":{"domain":[-0.000445,0.000545],"nice":false,"zero":false},"axis":{"values":[0,0.0005],"format":".4f","title":null}},
 "color":{"datum":"setting2","type":"nominal","scale":{"range":["#ff7f0e"]},"legend":{"orient":"bottom-right","title":null}}}},
{"width":1052,"height":47,"mark":{"type":"line","strokeWidth":1.5},"encoding":{
 "x":{"field":"t","type":"quantitative","scale":{"domain":[0,191],"nice":false,"zero":false},"axis":{"values":[0,25,50,75,100,125,150,175],"labels":false,"title":null}},
 "y":{"field":"setting3","type":"quantitative","scale":{"domain":[94.5,105.5],"nice":false,"zero":false},"axis":{"values":[95,100,105],"format":"d","title":null}},
 "color":{"datum":"setting3","type":"nominal","scale":{"range":["#2ca02c"]},"legend":{"orient":"top-right","title":null}}}},
{"width":1052,"height":47,"mark":{"type":"line","strokeWidth":1.5},"encoding":{
 "x":{"field":"t","type":"quantitative","scale":{"domain":[0,191],"nice":false,"zero":false},"axis":{"values":[0,25,50,75,100,125,150,175],"labels":false,"title":null}},
 "y":{"field":"s1","type":"quantitative","scale":{"domain":[490.14,547.19],"nice":false,"zero":false},"axis":{"values":[500,525],"format":"d","title":null}},
 "color":{"datum":"s1","type":"nominal","scale":{"range":["#d62728"]},"legend":{"orient":"top-right","title":null}}}},
{"width":1052,"height":47,"mark":{"type":"line","strokeWidth":1.5},"encoding":{
 "x":{"field":"t","type":"quantitative","scale":{"domain":[0,191],"nice":false,"zero":false},"axis":{"values":[0,25,50,75,100,125,150,175],"labels":false,"title":null}},
 "y":{"field":"s2","type":"quantitative","scale":{"domain":[641.68,644.35],"nice":false,"zero":false},"axis":{"values":[642,644],"format":"d","title":null}},
 "color":{"datum":"s2","type":"nominal","scale":{"range":["#9467bd"]},"legend":{"orient":"top-left","title":null}}}},
{"width":1052,"height":47,"mark":{"type":"line","strokeWidth":1.5},"encoding":{
 "x":{"field":"t","type":"quantitative","scale":{"domain":[0,191],"nice":false,"zero":false},"axis":{"values":[0,25,50,75,100,125,150,175],"labels":false,"title":null}},
 "y":{"field":"s3","type":"quantitative","scale":{"domain":[1576.9,1606.8],"nice":false,"zero":false},"axis":{"values":[1580,1600],"format":"d","title":null}},
 "color":{"datum":"s3","type":"nominal","scale":{"range":["#8c564b"]},"legend":{"orient":"top-left","title":null}}}},
{"width":1052,"height":47,"mark":{"type":"line","strokeWidth":1.5},"encoding":{
 "x":{"field":"t","type":"quantitative","scale":{"domain":[0,191],"nice":false,"zero":false},"axis":{"values":[0,25,50,75,100,125,150,175],"labels":false,"title":null}},
 "y":{"field":"s4","type":"quantitative","scale":{"domain":[1393.0,1434.3],"nice":false,"zero":false},"axis":{"values":[1400,1425],"format":"d","title":null}},
 "color":{"datum":"s4","type":"nominal","scale":{"range":["#e377c2"]},"legend":{"orient":"top-left","title":null}}}},
{"width":1052,"height":47,"mark":{"type":"line","strokeWidth":1.5},"encoding":{
 "x":{"field":"t","type":"quantitative","scale":{"domain":[0,191],"nice":false,"zero":false},"axis":{"values":[0,25,50,75,100,125,150,175],"labels":false,"title":null}},
 "y":{"field":"s5","type":"quantitative","scale":{"domain":[13.816,15.424],"nice":false,"zero":false},"axis":{"values":[14,15],"format":"d","title":null}},
 "color":{"datum":"s5","type":"nominal","scale":{"range":["#7f7f7f"]},"legend":{"orient":"top-right","title":null}}}},
{"width":1052,"height":47,"mark":{"type":"line","strokeWidth":1.5},"encoding":{
 "x":{"field":"t","type":"quantitative","scale":{"domain":[0,191],"nice":false,"zero":false},"axis":{"values":[0,25,50,75,100,125,150,175],"labels":false,"title":null}},
 "y":{"field":"s6","type":"quantitative","scale":{"domain":[20.4215,22.7985],"nice":false,"zero":false},"axis":{"values":[21,22],"format":"d","title":null}},
 "color":{"datum":"s6","type":"nominal","scale":{"range":["#bcbd22"]},"legend":{"orient":"top-right","title":null}}}},
{"width":1052,"height":47,"mark":{"type":"line","strokeWidth":1.5},"encoding":{
 "x":{"field":"t","type":"quantitative","scale":{"domain":[0,191],"nice":false,"zero":false},"axis":{"values":[0,25,50,75,100,125,150,175],"labels":false,"title":null}},
 "y":{"field":"s7","type":"quantitative","scale":{"domain":[550.64,555.11],"nice":false,"zero":false},"axis":{"values":[552.5,555.0],"format":".1f","title":null}},
 "color":{"datum":"s7","type":"nominal","scale":{"range":["#17becf"]},"legend":{"orient":"top-right","title":null}}}},
{"width":1052,"height":47,"title":{"text":"+2.388e3","anchor":"start","fontSize":10,"fontWeight":"normal","font":"DejaVu Sans","color":"#000","offset":2,"frame":"group"},"mark":{"type":"line","strokeWidth":1.5},"encoding":{
 "x":{"field":"t","type":"quantitative","scale":{"domain":[0,191],"nice":false,"zero":false},"axis":{"values":[0,25,50,75,100,125,150,175],"labels":false,"title":null}},
 "y":{"field":"s8","type":"quantitative","scale":{"domain":[2387.99,2388.338],"nice":false,"zero":false},"axis":{"values":[2388.0,2388.2],"labelExpr":"format(datum.value - 2388, '.1f')","title":null}},
 "color":{"datum":"s8","type":"nominal","scale":{"range":["#1f77b4"]},"legend":{"orient":"top-left","title":null}}}},
{"width":1052,"height":47,"mark":{"type":"line","strokeWidth":1.5},"encoding":{
 "x":{"field":"t","type":"quantitative","scale":{"domain":[0,191],"nice":false,"zero":false},"axis":{"values":[0,25,50,75,100,125,150,175],"labels":false,"title":null}},
 "y":{"field":"s9","type":"quantitative","scale":{"domain":[9031.5,9063.3],"nice":false,"zero":false},"axis":{"values":[9040,9060],"format":"d","title":null}},
 "color":{"datum":"s9","type":"nominal","scale":{"range":["#ff7f0e"]},"legend":{"orient":"top-right","title":null}}}}
]
}
